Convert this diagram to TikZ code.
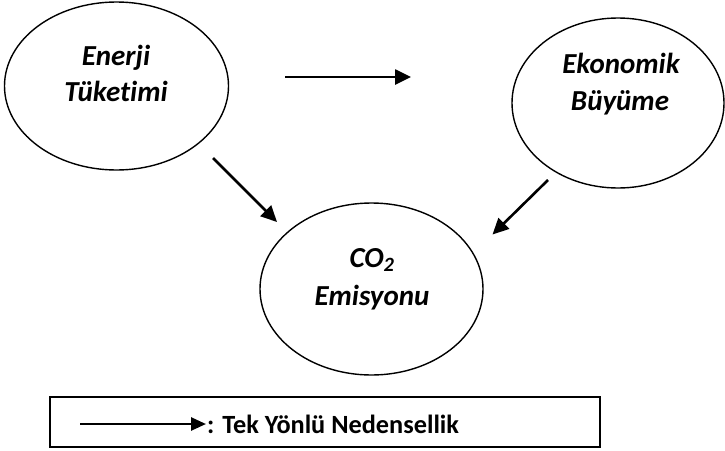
\documentclass[tikz,border=0pt]{standalone}
\usepackage{fontspec}
\setmainfont{Carlito}[Ligatures=NoCommon]
\usetikzlibrary{arrows.meta,shapes.geometric}
\begin{document}
\begin{tikzpicture}[x=1pt,y=-1pt,
  bubble/.style={draw,ellipse,line width=1.4pt,inner sep=0pt},
  lbl/.style={font=\fontsize{29}{34}\selectfont\bfseries\itshape,inner sep=0pt,anchor=base},
  causal/.style={line width=2.6pt,-{Triangle[length=16pt,width=15pt]}},
  legarrow/.style={line width=2.6pt,-{Triangle[length=15pt,width=13pt]}},
  legtext/.style={font=\fontsize{26.3}{32}\selectfont\bfseries,inner sep=0pt,anchor=base west}]
\useasboundingbox (0,0) rectangle (725,450);
% ellipses
\node[bubble,minimum width=224pt,minimum height=168pt] (enerji) at (116.5,86) {};
\node[bubble,minimum width=212pt,minimum height=170pt] (ekonomi) at (618,103) {};
\node[bubble,minimum width=223pt,minimum height=172pt] (co2) at (371.5,289) {};
% labels
\node[lbl] (t1a) at (116,65) {Enerji};
\node[lbl] (t1b) at (116,101) {Tüketimi};
\node[lbl] (t2a) at (621,73) {Ekonomik};
\node[lbl] (t2b) at (620,110.5) {Büyüme};
\node[lbl] (t3a) at (372,267) {CO\textsubscript{2}};
\node[lbl] (t3b) at (372,305.5) {Emisyonu};
% arrows
\coordinate (h1) at (285,77);
\coordinate (h2) at (411,77);
\coordinate (d1) at (213,158);
\coordinate (d2) at (277,222);
\coordinate (e1) at (548,180);
\coordinate (e2) at (492.5,234.5);
\draw[causal] (h1) -- (h2);
\draw[causal] (d1) -- (d2);
\draw[causal] (e1) -- (e2);
% legend
\coordinate (bx1) at (50,397);
\coordinate (bx2) at (600,447);
\draw[line width=2pt] (bx1) rectangle (bx2);
\coordinate (la) at (80,424);
\coordinate (lb) at (206,424);
\draw[legarrow] (la) -- (lb);
\node[legtext] (legend) at (207,433) {: Tek Yönlü Nedensellik};
\end{tikzpicture}
\end{document}
